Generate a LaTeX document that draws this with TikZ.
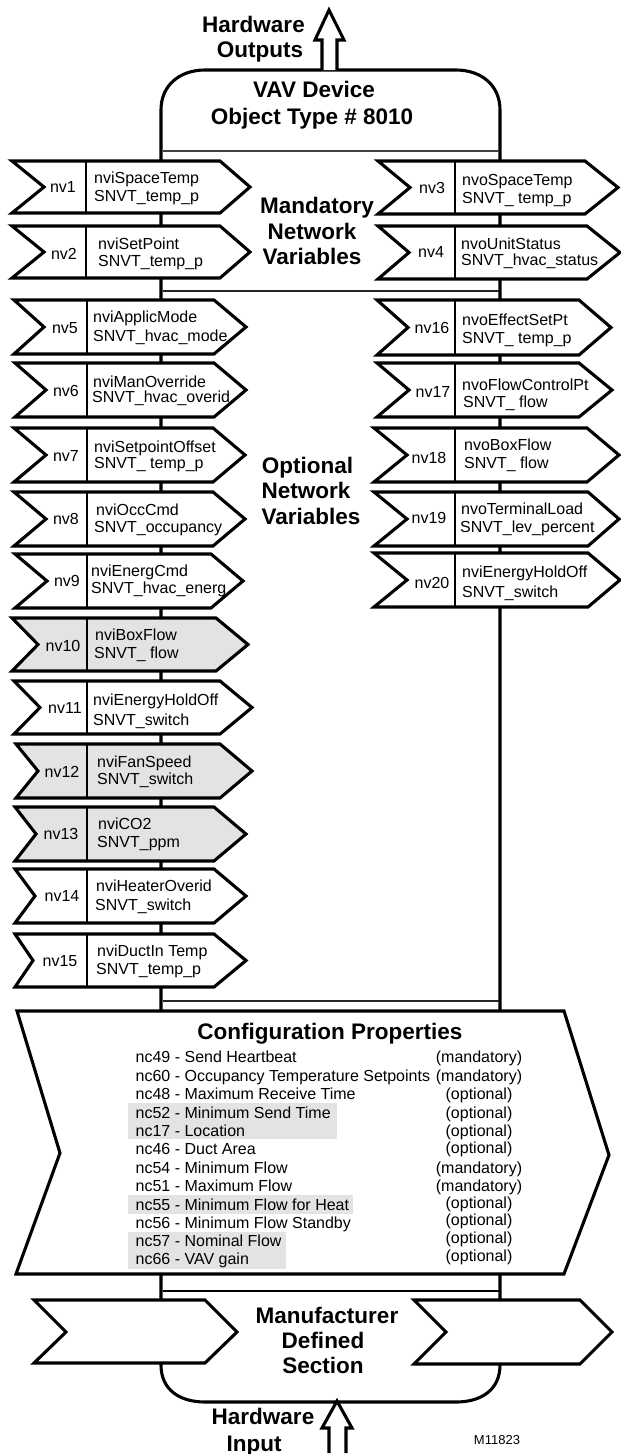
\documentclass[tikz,border=0pt]{standalone}
\usepackage{fontspec}
\setmainfont{Liberation Sans}
\definecolor{greyfill}{HTML}{E3E3E3}
\tikzset{
  x=1pt,y=-1pt,
  outline/.style={draw=black,line width=3.1pt,miter limit=10,line join=miter},
  rail/.style={draw=black,line width=2.8pt},
  tagtext/.style={inner sep=0pt,anchor=base west,font=\fontsize{16}{18}\selectfont},
  taglabel/.style={inner sep=0pt,anchor=center,font=\fontsize{16}{18}\selectfont},
  head/.style={inner sep=0pt,anchor=base,font=\fontsize{22.5}{26}\selectfont\bfseries},
  listtext/.style={inner sep=0pt,anchor=base west,font=\fontsize{16}{18}\selectfont},
  listnote/.style={inner sep=0pt,anchor=base,font=\fontsize{16}{18}\selectfont},
}
\begin{document}
\begin{tikzpicture}
\useasboundingbox (0,0) rectangle (621,1454);
\fill[white] (0,0) rectangle (621,1454);
% device body
\draw[rail,line width=3.1pt] (161,1365) .. controls (161,1390) and (180,1402) .. (205,1402) -- (456,1402)
  .. controls (481,1402) and (500,1390) .. (500,1365) -- (500,110)
  .. controls (500,85) and (481,70) .. (456,70) -- (205,70)
  .. controls (180,70) and (161,85) .. (161,110) -- cycle;
\draw[rail,draw=black!75] (163,151) -- (499,151);
\draw[rail,draw=black!85] (163,291) -- (499,291);
\draw[rail,draw=black!85] (163,1001) -- (499,1001);
\draw[rail] (163,1291) -- (499,1291);
% arrows
\draw[outline,fill=white] (322,70) -- (322,40) -- (315,40) -- (329,10) -- (344,40) -- (337,40) -- (337,70);
\draw[outline,fill=white] (329,1453) -- (329,1428) -- (322,1428) -- (337,1401) -- (352,1428) -- (346,1428) -- (346,1453);
% tags
\foreach \id/\l/\n/\d/\s/\t/\T/\B/\f/\lx/\ly/\lab/\xa/\ya/\ta/\xb/\yb/\tb in {
 a1/12/44/86/220/250/161/213/white/63/187/nv1/94/183/nviSpaceTemp/94/201/SNVT\_temp\_p,
 a2/12/44/86/220/250/226/278/white/64/254/nv2/98/249/nviSetPoint/98/266/SNVT\_temp\_p,
 a3/378/410/455/585/618/161/214/white/432/188/nv3/462/185/nvoSpaceTemp/462/203/SNVT\_ temp\_p,
 a4/378/409/455/587/620/226/279/white/431/252/nv4/461/249/nvoUnitStatus/461/265/SNVT\_hvac\_status,
 a5/14/44/87/214/246/300/354/white/65/328/nv5/93/322/nviApplicMode/93/341/SNVT\_hvac\_mode,
 a6/15/46/87/214/246/363/417/white/66/391/nv6/93/387/nviManOverride/92/402/SNVT\_hvac\_overid,
 a7/14/46/87/213/245/428/482/white/66/456/nv7/94/452/nviSetpointOffset/94/468/SNVT\_ temp\_p,
 a8/14/46/87/213/245/492/546/white/66/519/nv8/96/515/nviOccCmd/94/532/SNVT\_occupancy,
 a9/15/47/87/211/243/554/608/white/67/581/nv9/91/576/nviEnergCmd/91/593/SNVT\_hvac\_energ,
 a10/12/38/87/216/248/618/671/greyfill/63/646/nv10/95/640/nviBoxFlow/94/658/SNVT\_ flow,
 a11/14/40/87/220/252/681/734/white/65/708/nv11/93/705/nviEnergyHoldOff/93/725/SNVT\_switch,
 a12/16/38/87/220/252/744/798/greyfill/62/772/nv12/97/767/nviFanSpeed/97/784/SNVT\_switch,
 a13/15/36/87/214/246/807/861/greyfill/61/834/nv13/98/829/nviCO2/97/847/SNVT\_ppm,
 a14/15/35/87/214/246/869/923/white/62/896/nv14/96/891/nviHeaterOverid/95/910/SNVT\_switch,
 a15/15/33/87/214/246/934/987/white/60/961/nv15/97/956/nviDuctIn Temp/96/974/SNVT\_temp\_p,
 a16/377/408/455/579/611/300/355/white/432/328/nv16/462/325/nvoEffectSetPt/462/343/SNVT\_ temp\_p,
 a17/377/409/455/579/612/363/417/white/433/392/nv17/462/390/nvoFlowControlPt/463/407/SNVT\_ flow,
 a18/374/407/455/587/619/428/482/white/429/458/nv18/464/450/nvoBoxFlow/464/468/SNVT\_ flow,
 a19/374/407/455/588/619/492/546/white/429/518/nv19/461/514/nvoTerminalLoad/460/532/SNVT\_lev\_percent,
 a20/374/407/455/588/620/553/607/white/432/583/nv20/462/577/nviEnergyHoldOff/462/597/SNVT\_switch%
}{
  \draw[outline,fill=\f] (\l,\T) -- (\s,\T) -- (\t,{(\T+\B)/2}) -- (\s,\B) -- (\l,\B) -- (\n,{(\T+\B)/2}) -- cycle;
  \draw[line width=2.8pt] (\d,\T) -- (\d,\B);
  \node[taglabel] (\id n) at (\lx,\ly) {\lab};
  \node[tagtext] (\id a) at (\xa,\ya) {\ta};
  \node[tagtext] (\id b) at (\xb,\yb) {\tb};
}
% configuration
\draw[outline,fill=white] (17,1011) -- (564,1011) -- (609,1155) -- (564,1274) -- (16,1274) -- (60,1153) -- cycle;
\fill[greyfill] (127.5,1103) rectangle (336.7,1139);
\fill[greyfill] (127.5,1195) rectangle (352.6,1214);
\fill[greyfill] (127.5,1232) rectangle (286,1269);
\node[head] (cfg) at (330,1039) {Configuration Properties};
\foreach \i/\y/\txt in {
 1/1062/nc49 - Send Heartbeat,
 2/1081/nc60 - Occupancy Temperature Setpoints,
 3/1099/nc48 - Maximum Receive Time,
 4/1118/nc52 - Minimum Send Time,
 5/1136/nc17 - Location,
 6/1154/nc46 - Duct Area,
 7/1173/nc54 - Minimum Flow,
 8/1191/nc51 - Maximum Flow,
 9/1210/nc55 - Minimum Flow for Heat,
 10/1228/nc56 - Minimum Flow Standby,
 11/1246/nc57 - Nominal Flow,
 12/1264/nc66 - VAV gain%
}{\node[listtext] (l\i) at (135.5,\y) {\txt};}
\foreach \i/\y/\txt in {
 1/1062/(mandatory),2/1081/(mandatory),3/1099/(optional),4/1118/(optional),
 5/1136/(optional),6/1153/(optional),7/1173/(mandatory),8/1191/(mandatory),
 9/1208/(optional),10/1225/(optional),11/1243/(optional),12/1261/(optional)%
}{\node[listnote] (r\i) at (479,\y) {\txt};}
% manufacturer tags
\draw[outline,fill=white] (34,1300) -- (205,1300) -- (237,1332) -- (205,1363) -- (34,1363) -- (66,1332) -- cycle;
\draw[outline,fill=white] (414,1300) -- (580,1300) -- (612,1332) -- (580,1364) -- (414,1364) -- (446,1332) -- cycle;
% headings
\node[head] (h1) at (253.5,32) {Hardware};
\node[head] (h2) at (260,57) {Outputs};
\node[head] (h3) at (314,97) {VAV Device};
\node[head] (h4) at (312,124) {Object Type \# 8010};
\node[head] (h5) at (317,213) {Mandatory};
\node[head] (h6) at (312,239) {Network};
\node[head] (h7) at (312,264) {Variables};
\node[head] (h8) at (307.5,473) {Optional};
\node[head] (h9) at (306,498) {Network};
\node[head] (h10) at (311,524) {Variables};
\node[head] (h11) at (327,1323) {Manufacturer};
\node[head] (h12) at (323,1348) {Defined};
\node[head] (h13) at (323,1373) {Section};
\node[head] (h14) at (263,1424) {Hardware};
\node[head] (h15) at (254,1451) {Input};
\node[inner sep=0pt,anchor=base,font=\fontsize{13}{15}\selectfont] (mark) at (497,1444) {M11823};
\end{tikzpicture}
\end{document}
